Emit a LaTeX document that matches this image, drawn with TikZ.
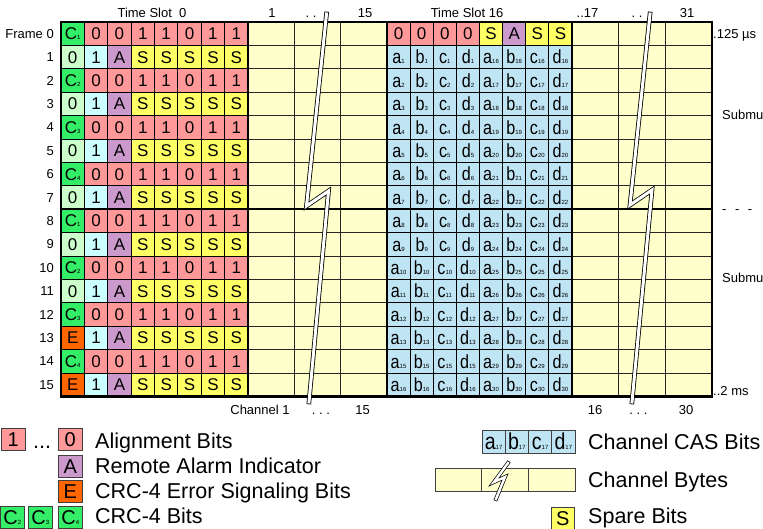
\documentclass[tikz,border=0pt]{standalone}
\usepackage{fontspec}
\setmainfont{Liberation Sans}
\definecolor{pinkc}{HTML}{FF9999}
\definecolor{yelc}{HTML}{FFFF66}
\definecolor{purc}{HTML}{CC99CC}
\definecolor{cyanc}{HTML}{CCFFFF}
\definecolor{lgreen}{HTML}{CCFFCC}
\definecolor{greenc}{HTML}{33EE66}
\definecolor{orangec}{HTML}{FF6600}
\definecolor{casc}{HTML}{BFE4F4}
\definecolor{bytec}{HTML}{FFFFCC}
\newcommand{\sbs}[1]{{\fontsize{6}{6}\selectfont #1}}
\newcommand{\casl}[3]{\scalebox{0.85}[1]{\fontsize{#3}{#3}\selectfont #1}\sbs{#2}}
\begin{document}
\begin{tikzpicture}[x=1pt,y=-1pt,
  cell/.style={draw=black, line width=0.8pt, minimum width=23.375pt, minimum height=23.4pt,
    inner sep=0pt, outer sep=0pt, anchor=north west, font=\fontsize{17}{17}\selectfont,
    text height=12.2pt, text depth=0pt},
  cas/.style={cell, minimum width=23.125pt, fill=casc, text height=13.6pt},
  lbox/.style={draw=black!75, line width=0.8pt, minimum width=23.4pt, minimum height=22pt,
    inner sep=0pt, outer sep=0pt, anchor=north west, font=\fontsize{20}{20}\selectfont,
    text height=14.3pt, text depth=0pt},
  lab/.style={font=\fontsize{13}{13}\selectfont, inner sep=0pt, text height=9.3pt, text depth=0pt},
  leg/.style={font=\fontsize{21.5}{21.5}\selectfont, inner sep=0pt, anchor=west, text height=15.4pt, text depth=0pt},
  gridthin/.style={draw=black!85, line width=0.8pt},
  gridthick/.style={draw=black, line width=2.6pt},
  bolt/.style={draw=black, line width=0.8pt, double=white, double distance=3pt, line cap=rect, line join=miter},
  lbolt/.style={draw=black, line width=0.7pt, double=white, double distance=2.4pt, line cap=rect, line join=miter}
]
\useasboundingbox (0,0) rectangle (763,529);
\fill[white] (0,0) rectangle (763,529);

% channel byte areas
\fill[bytec] (248,22) rectangle (387,396.4);
\fill[bytec] (572,22) rectangle (712,396.4);
\foreach \r in {1,...,15}{
  \draw[gridthin] (248,22+\r*23.4) -- (387,22+\r*23.4);
  \draw[gridthin] (572,22+\r*23.4) -- (712,22+\r*23.4);
}
\foreach \c in {1,2}{
  \draw[gridthin] (248+\c*46.33,22) -- (248+\c*46.33,396.4);
  \draw[gridthin] (572+\c*46.67,22) -- (572+\c*46.67,396.4);
}

% time slot 0
\foreach \r in {0,...,15}{
  \pgfmathsetmacro{\yy}{22+\r*23.4}
  \ifodd\r
    \ifnum\r>12
      \node[cell,fill=orangec] (z-\r-0) at (61,\yy) {E};
    \else
      \node[cell,fill=lgreen] (z-\r-0) at (61,\yy) {0};
    \fi
    \node[cell,fill=cyanc] (z-\r-1) at (61+23.375,\yy) {1};
    \node[cell,fill=purc] (z-\r-2) at (61+2*23.375,\yy) {A};
    \foreach \c in {3,...,7}{\node[cell,fill=yelc] (z-\r-\c) at (61+\c*23.375,\yy) {S};}
  \else
    \pgfmathtruncatemacro{\kk}{mod(\r/2,4)+1}
    \node[cell,fill=greenc] (z-\r-0) at (61,\yy) {C\sbs{\kk}};
    \foreach \v [count=\c] in {0,0,1,1,0,1,1}{\node[cell,fill=pinkc] (z-\r-\c) at (61+\c*23.375,\yy) {\v};}
  \fi
}

% time slot 16
\foreach \v/\col [count=\c from 0] in {0/pinkc,0/pinkc,0/pinkc,0/pinkc,S/yelc,A/purc,S/yelc,S/yelc}{
  \node[cell, minimum width=23.125pt, fill=\col] (s-0-\c) at (387+\c*23.125,22) {\v};
}
\foreach \r in {1,...,15}{
  \pgfmathsetmacro{\yy}{22+\r*23.4}
  \pgfmathtruncatemacro{\nA}{\r<14 ? \r : \r+1}
  \pgfmathtruncatemacro{\nB}{\r+15}
  \foreach \L [count=\c from 0] in {a,b,c,d}{
    \pgfmathtruncatemacro{\cc}{\c+4}
    \node[cas] (s-\r-\c) at (387+\c*23.125,\yy) {\casl{\L}{\nA}{19}};
    \node[cas] (s-\r-\cc) at (387+\cc*23.125,\yy) {\casl{\L}{\nB}{19}};
  }
}

% thick lines
\draw[gridthick] (61,22) rectangle (712,396.4);
\draw[gridthick] (248,22) -- (248,396.4);
\draw[gridthick] (387,22) -- (387,396.4);
\draw[gridthick] (572,22) -- (572,396.4);
\draw[gridthick] (61,209.2) -- (712,209.2);

% lightning bolts
\coordinate (b1a) at (326.5,14);
\coordinate (b1b) at (306.5,206);
\coordinate (b1c) at (328.5,191);
\coordinate (b1d) at (309,402);
\draw[bolt] (b1a) -- (b1b) -- (b1c) -- (b1d);
\coordinate (b2a) at (650,14);
\coordinate (b2b) at (630,205);
\coordinate (b2c) at (652,190);
\coordinate (b2d) at (632,402);
\draw[bolt] (b2a) -- (b2b) -- (b2c) -- (b2d);

% row labels
\node[lab,anchor=east] (f0) at (54,33.7) {Frame 0};
\foreach \r in {1,...,15}{\node[lab,anchor=east] (f\r) at (54,33.7+\r*23.4) {\r};}

% top labels
\node[lab] (ts0) at (152,12.4) {Time Slot\ \ 0};
\node[lab] (tc1) at (272,12.4) {1};
\node[lab] (td1) at (311,12.4) {.\ .};
\node[lab] (tc15) at (365,12.4) {15};
\node[lab] (ts16) at (467,12.4) {Time Slot 16};
\node[lab] (tc17) at (587.5,12.4) {..17};
\node[lab] (td2) at (637,12.4) {.\ .};
\node[lab] (tc31) at (687,12.4) {31};

% bottom labels
\node[lab] (bch1) at (260,409.4) {Channel 1};
\node[lab] (bd1) at (321,409.4) {.\ .\ .};
\node[lab] (b15) at (362.5,409.4) {15};
\node[lab] (b16) at (595,409.4) {16};
\node[lab] (bd2) at (638.5,409.4) {.\ .\ .};
\node[lab] (b30) at (686,409.4) {30};

% right labels
\node[lab,anchor=west] (r125) at (713,33.4) {.125 µs};
\node[lab,anchor=west] (rsm1) at (722,115) {Submu};
\node[lab,anchor=west] (rdash) at (722,208.5) {-\hspace{8.5pt}-\hspace{8.5pt}-};
\node[lab,anchor=west] (rsm2) at (722,278) {Submu};
\node[lab,anchor=west] (r2ms) at (713,391) {..2 ms};

% legend left
\node[lbox,fill=pinkc] (l1) at (1.5,428) {1};
\node[leg] (ldots) at (33,440.5) {...};
\node[lbox,fill=pinkc] (l0) at (58.5,428) {0};
\node[leg] (tal) at (95,440.5) {Alignment Bits};
\node[lbox,fill=purc] (lA) at (58.5,455) {A};
\node[leg] (tra) at (95,465.5) {Remote Alarm Indicator};
\node[lbox,fill=orangec] (lE) at (58.5,480) {E};
\node[leg] (tce) at (95,490.5) {CRC-4 Error Signaling Bits};
\node[lbox,fill=greenc] (lC2) at (0.5,506) {C\sbs{2}};
\node[lbox,fill=greenc] (lC3) at (28.5,506) {C\sbs{3}};
\node[lbox,fill=greenc] (lC4) at (58.5,506) {C\sbs{4}};
\node[leg] (tcb) at (95,516) {CRC-4 Bits};

% legend right
\foreach \L [count=\c from 0] in {a,b,c,d}{
  \node[lbox,fill=casc,minimum width=23.25pt,minimum height=23pt,text height=16.5pt] (lcas\c) at (482+\c*23.25,430) {\casl{\L}{17}{23}};
}
\node[leg] (tcas) at (588,441.5) {Channel CAS Bits};
\foreach \c in {0,1,2}{
  \node[lbox,fill=bytec,minimum width=46.67pt,minimum height=23pt] (lby\c) at (435+\c*46.67,468) {};
}
\coordinate (b3a) at (508,463);
\coordinate (b3b) at (494,482);
\coordinate (b3c) at (505,477);
\coordinate (b3d) at (496,499);
\draw[lbolt] (b3a) -- (b3b) -- (b3c) -- (b3d);
\node[leg] (tby) at (588,480) {Channel Bytes};
\node[lbox,fill=yelc] (lS) at (551,507) {S};
\node[leg] (tsp) at (588,516) {Spare Bits};
\end{tikzpicture}
\end{document}
